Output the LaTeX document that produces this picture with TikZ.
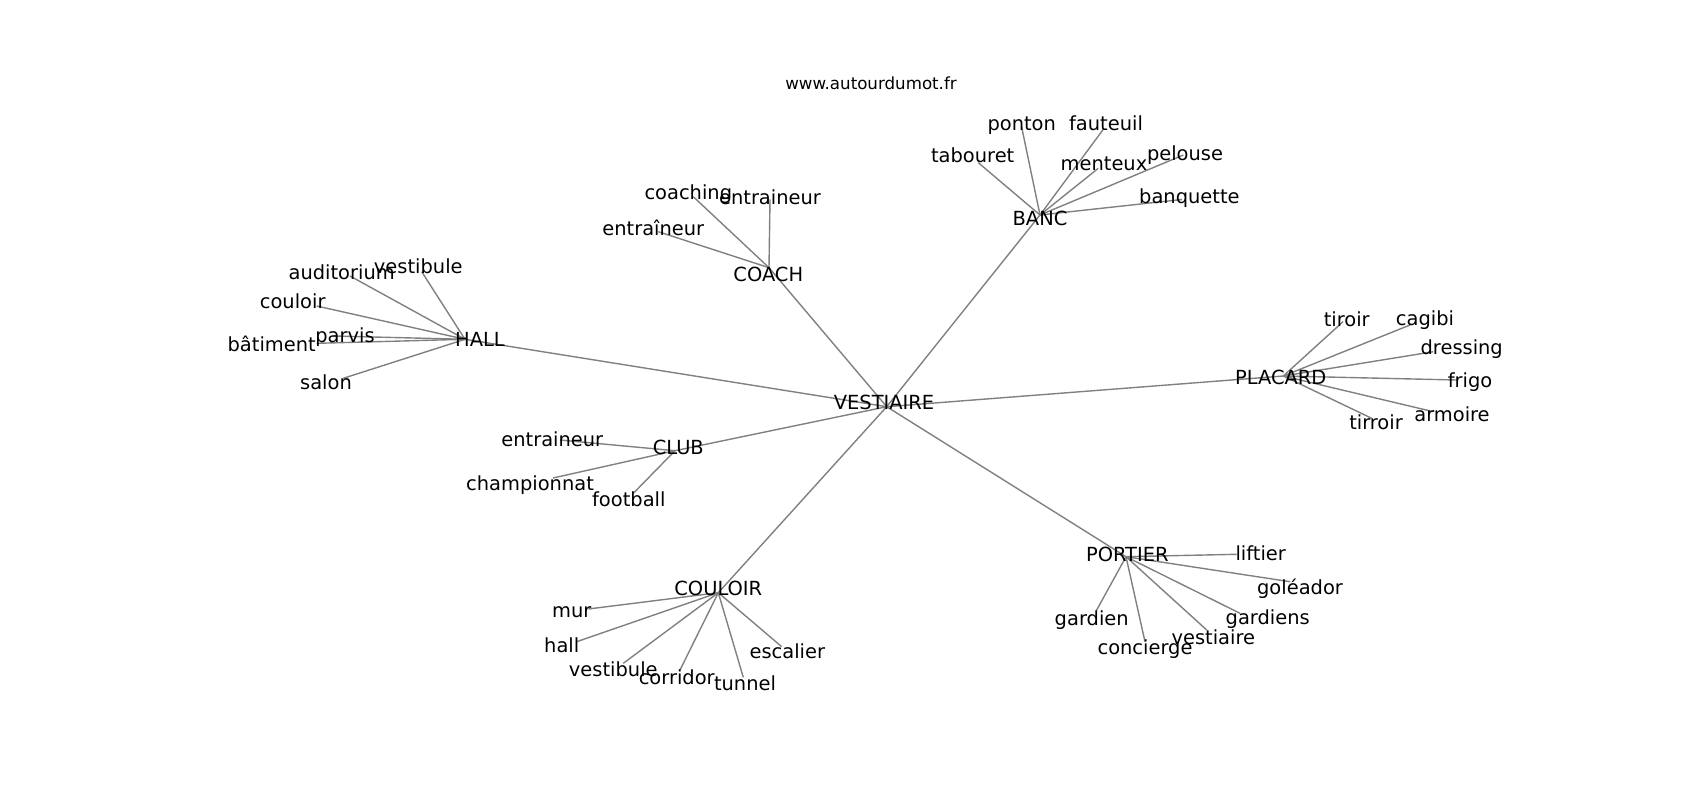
\documentclass[tikz,border=0pt]{standalone}
\usepackage{fontspec}
\setmainfont{DejaVu Sans}
\tikzset{lbl/.style={inner sep=0pt, text height=19.2pt, text depth=4.05pt, font=\fontsize{19.44}{23}\selectfont}}
\tikzset{link/.style={draw=black!50, line width=1.39pt}}

\begin{document}
\begin{tikzpicture}[x=1pt, y=-1pt]

  \useasboundingbox[fill=white] (0,0) rectangle (1700,800);

  \node[inner sep=0pt, text height=17.1pt, text depth=3.47pt, font=\fontsize{16.67}{20}\selectfont] (title) at (871,82.4) {www.autourdumot.fr};

  %% hubs
  \coordinate (vest) at (886.7,406.7);
  \coordinate (hall) at (465,339.3);
  \coordinate (coach) at (769,267.7);
  \coordinate (banc) at (1040,215);
  \coordinate (placard) at (1283.3,376);
  \coordinate (club) at (675,450.7);
  \coordinate (couloir) at (718.3,592.7);
  \coordinate (portier) at (1126,556.7);

  %% leaf ends
  \coordinate (h-aud) at (350,276);
  \coordinate (h-ves) at (421.7,271.7);
  \coordinate (h-cou) at (316.7,306);
  \coordinate (h-par) at (333.3,336);
  \coordinate (h-bat) at (316.7,343.3);
  \coordinate (h-sal) at (343.3,378.3);

  \coordinate (co-cch) at (693.3,196.7);
  \coordinate (co-ent) at (770,199.3);
  \coordinate (co-enc) at (658.3,231.7);

  \coordinate (b-pon) at (1021.7,127.3);
  \coordinate (b-fau) at (1103.3,129.3);
  \coordinate (b-tab) at (978.3,162.7);
  \coordinate (b-men) at (1098.3,168.3);
  \coordinate (b-pel) at (1183.3,155);
  \coordinate (b-ban) at (1182,199.5);

  \coordinate (p-tir) at (1343,321.7);
  \coordinate (p-cag) at (1410,325);
  \coordinate (p-dre) at (1433.3,351.7);
  \coordinate (p-fri) at (1456.7,380);
  \coordinate (p-arm) at (1433.3,411.7);
  \coordinate (p-trr) at (1371.7,418.3);

  \coordinate (cl-ent) at (560,440);
  \coordinate (cl-cha) at (553,478);
  \coordinate (cl-foo) at (633.3,493.3);

  \coordinate (cu-mur) at (588.3,609);
  \coordinate (cu-hal) at (576.7,641.7);
  \coordinate (cu-ves) at (623.3,663.3);
  \coordinate (cu-cor) at (680,670);
  \coordinate (cu-tun) at (743.3,677.3);
  \coordinate (cu-esc) at (781.7,646.7);

  \coordinate (po-lif) at (1236.7,554.3);
  \coordinate (po-gol) at (1290,581.7);
  \coordinate (po-gds) at (1240,613.3);
  \coordinate (po-ves) at (1206.7,630);
  \coordinate (po-con) at (1145,641.7);
  \coordinate (po-gar) at (1096.7,610);

  %% edges
  \draw[link] (vest) -- (hall);
  \draw[link] (vest) -- (coach);
  \draw[link] (vest) -- (banc);
  \draw[link] (vest) -- (placard);
  \draw[link] (vest) -- (club);
  \draw[link] (vest) -- (couloir);
  \draw[link] (vest) -- (portier);

  \draw[link] (hall) -- (h-aud);
  \draw[link] (hall) -- (h-ves);
  \draw[link] (hall) -- (h-cou);
  \draw[link] (hall) -- (h-par);
  \draw[link] (hall) -- (h-bat);
  \draw[link] (hall) -- (h-sal);

  \draw[link] (coach) -- (co-cch);
  \draw[link] (coach) -- (co-ent);
  \draw[link] (coach) -- (co-enc);

  \draw[link] (banc) -- (b-pon);
  \draw[link] (banc) -- (b-fau);
  \draw[link] (banc) -- (b-tab);
  \draw[link] (banc) -- (b-men);
  \draw[link] (banc) -- (b-pel);
  \draw[link] (banc) -- (b-ban);

  \draw[link] (placard) -- (p-tir);
  \draw[link] (placard) -- (p-cag);
  \draw[link] (placard) -- (p-dre);
  \draw[link] (placard) -- (p-fri);
  \draw[link] (placard) -- (p-arm);
  \draw[link] (placard) -- (p-trr);

  \draw[link] (club) -- (cl-ent);
  \draw[link] (club) -- (cl-cha);
  \draw[link] (club) -- (cl-foo);

  \draw[link] (couloir) -- (cu-mur);
  \draw[link] (couloir) -- (cu-hal);
  \draw[link] (couloir) -- (cu-ves);
  \draw[link] (couloir) -- (cu-cor);
  \draw[link] (couloir) -- (cu-tun);
  \draw[link] (couloir) -- (cu-esc);

  \draw[link] (portier) -- (po-lif);
  \draw[link] (portier) -- (po-gol);
  \draw[link] (portier) -- (po-gds);
  \draw[link] (portier) -- (po-ves);
  \draw[link] (portier) -- (po-con);
  \draw[link] (portier) -- (po-gar);

  %% labels
  \node[lbl] (vest-t) at (884,401.7) {VESTIAIRE};
  \node[lbl] (hall-t) at (480,339.3) {HALL};
  \node[lbl] (coach-t) at (768.3,274) {COACH};
  \node[lbl] (banc-t) at (1040,218.3) {BANC};
  \node[lbl] (placard-t) at (1280.7,376.7) {PLACARD};
  \node[lbl] (club-t) at (678.3,447.3) {CLUB};
  \node[lbl] (couloir-t) at (718.3,588.3) {COULOIR};
  \node[lbl] (portier-t) at (1127.3,554.3) {PORTIER};

  \node[lbl] (h-aud-t) at (341.7,271.7) {auditorium};
  \node[lbl] (h-ves-t) at (418.3,266) {vestibule};
  \node[lbl] (h-cou-t) at (292.7,300.7) {couloir};
  \node[lbl] (h-par-t) at (345,335) {parvis};
  \node[lbl] (h-bat-t) at (271.7,344.3) {bâtiment};
  \node[lbl] (h-sal-t) at (326,381.7) {salon};

  \node[lbl] (co-cch-t) at (688.3,191.7) {coaching};
  \node[lbl] (co-ent-t) at (770,197.3) {entraineur};
  \node[lbl] (co-enc-t) at (653.3,228.3) {entraîneur};

  \node[lbl] (b-pon-t) at (1021.7,123.3) {ponton};
  \node[lbl] (b-fau-t) at (1106,123.3) {fauteuil};
  \node[lbl] (b-tab-t) at (972.7,155) {tabouret};
  \node[lbl] (b-men-t) at (1104,162.7) {menteux};
  \node[lbl] (b-pel-t) at (1185,152.9) {pelouse};
  \node[lbl] (b-ban-t) at (1189.4,196.2) {banquette};

  \node[lbl] (p-tir-t) at (1346.7,319.3) {tiroir};
  \node[lbl] (p-cag-t) at (1425,318) {cagibi};
  \node[lbl] (p-dre-t) at (1461.7,347) {dressing};
  \node[lbl] (p-fri-t) at (1470,380) {frigo};
  \node[lbl] (p-arm-t) at (1452,414) {armoire};
  \node[lbl] (p-trr-t) at (1376,422) {tirroir};

  \node[lbl] (cl-ent-t) at (552.3,439) {entraineur};
  \node[lbl] (cl-cha-t) at (530,483.3) {championnat};
  \node[lbl] (cl-foo-t) at (628.8,498.7) {football};

  \node[lbl] (cu-mur-t) at (571.7,610) {mur};
  \node[lbl] (cu-hal-t) at (561.7,645) {hall};
  \node[lbl] (cu-ves-t) at (613.3,669.3) {vestibule};
  \node[lbl] (cu-cor-t) at (676.7,677.3) {corridor};
  \node[lbl] (cu-tun-t) at (745,683.3) {tunnel};
  \node[lbl] (cu-esc-t) at (787.3,650.7) {escalier};

  \node[lbl] (po-lif-t) at (1260.7,553.3) {liftier};
  \node[lbl] (po-gol-t) at (1300,586.7) {goléador};
  \node[lbl] (po-gds-t) at (1267.7,616.7) {gardiens};
  \node[lbl] (po-ves-t) at (1213.3,636.7) {vestiaire};
  \node[lbl] (po-con-t) at (1145,646.7) {concierge};
  \node[lbl] (po-gar-t) at (1091.7,618.3) {gardien};

\end{tikzpicture}
\end{document}
